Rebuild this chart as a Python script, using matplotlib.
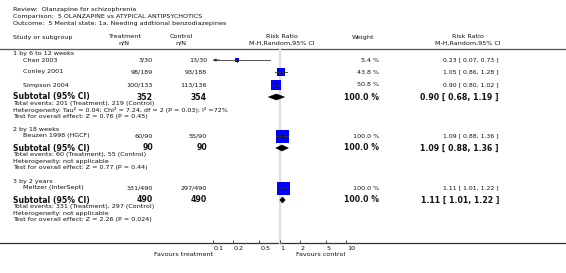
import matplotlib
matplotlib.use("Agg")
import matplotlib.pyplot as plt
import matplotlib.transforms as mtransforms
import numpy as np

# ---------------- data ----------------
review = "Review:  Olanzapine for schizophrenia"
comparison = "Comparison:  5 OLANZAPINE vs ATYPICAL ANTIPSYCHOTICS"
outcome = "Outcome:  5 Mental state: 1a. Needing addtional benzodiazepines"

subgroups = ["1 by 6 to 12 weeks", "2 by 18 weeks", "3 by 2 years"]
study_names = [["Chan 2003", "Conley 2001", "Simpson 2004"],
               ["Beuzen 1998 (HGCF)"],
               ["Meltzer (InterSept)"]]
treat_nN = [["3/30", "98/189", "100/133"], ["60/90"], ["331/490"]]
ctrl_nN = [["13/30", "93/188", "113/136"], ["55/90"], ["297/490"]]
weights = [[5.4, 43.8, 50.8], [100.0], [100.0]]
rr = [[0.23, 1.05, 0.90], [1.09], [1.11]]
rr_lo = [[0.07, 0.86, 0.80], [0.88], [1.01]]
rr_hi = [[0.73, 1.28, 1.02], [1.36], [1.22]]

sub_treat_N = [352, 90, 490]
sub_ctrl_N = [354, 90, 490]
sub_rr = [0.90, 1.09, 1.11]
sub_lo = [0.68, 0.88, 1.01]
sub_hi = [1.19, 1.36, 1.22]
sub_events = ["Total events: 201 (Treatment), 219 (Control)",
              "Total events: 60 (Treatment), 55 (Control)",
              "Total events: 331 (Treatment), 297 (Control)"]
sub_het = ["Heterogeneity: Tau\u00b2 = 0.04; Chi\u00b2 = 7.24, df = 2 (P = 0.03); I\u00b2 =72%",
           "Heterogeneity: not applicable",
           "Heterogeneity: not applicable"]
sub_test = ["Test for overall effect: Z = 0.76 (P = 0.45)",
            "Test for overall effect: Z = 0.77 (P = 0.44)",
            "Test for overall effect: Z = 2.26 (P = 0.024)"]

tick_vals = [0.1, 0.2, 0.5, 1, 2, 5, 10]
tick_labels = ["0.1", "0.2", "0.5", "1", "2", "5", "10"]

# ---------------- layout (pixel rows) ----------------
W, H = 566, 273
header_y = [[53, 60, 72, 85], [130, 136], [182, 188]]  # subgroup label, studies
sub_y = [97, 148, 200]
AX_TOP, AX_BOT = 48, 243

fig = plt.figure(figsize=(W / 100, H / 100), dpi=100)
tx = fig.add_axes([0, 0, 1, 1])
tx.set_xlim(0, W)
tx.set_ylim(H, 0)
tx.axis("off")

FS = 4.6
FSB = 5.6
col = "#111111"

tx.text(13, 9, review, fontsize=FS, va="center", color=col)
tx.text(13, 16.5, comparison, fontsize=FS, va="center", color=col)
tx.text(13, 24, outcome, fontsize=FS, va="center", color=col)

# headers
tx.text(13, 38, "Study or subgroup", fontsize=FS, va="center", color=col)
tx.text(124, 36.5, "Treatment", fontsize=FS, va="center", ha="center", color=col)
tx.text(124, 43, "n/N", fontsize=FS, va="center", ha="center", color=col)
tx.text(181, 36.5, "Control", fontsize=FS, va="center", ha="center", color=col)
tx.text(181, 43, "n/N", fontsize=FS, va="center", ha="center", color=col)
tx.text(282, 36.5, "Risk Ratio", fontsize=FS, va="center", ha="center", color=col)
tx.text(282, 43, "M-H,Random,95% CI", fontsize=FS, va="center", ha="center", color=col)
tx.text(363, 38, "Weight", fontsize=FS, va="center", ha="center", color=col)
tx.text(468, 36.5, "Risk Ratio", fontsize=FS, va="center", ha="center", color=col)
tx.text(468, 43, "M-H,Random,95% CI", fontsize=FS, va="center", ha="center", color=col)

tx.plot([0, W], [48.5, 48.5], color="#555555", lw=0.9)
tx.plot([0, W], [243, 243], color="#333333", lw=0.9)

tx.text(213, 254, "Favours treatment", fontsize=FS, va="center", ha="right", color=col)
tx.text(296, 254, "Favours control", fontsize=FS, va="center", ha="left", color=col)

# forest axes
fa = fig.add_axes([213 / W, (H - AX_BOT) / H, (346 - 213) / W, (AX_BOT - AX_TOP) / H])
fa.set_xscale("log")
fa.set_xlim(0.1, 10)
fa.set_ylim(AX_BOT, AX_TOP)
fa.patch.set_alpha(0)
for s in fa.spines.values():
    s.set_visible(False)
fa.set_yticks([])
fa.set_xticks(tick_vals)
fa.set_xticklabels(tick_labels)
fa.minorticks_off()
fa.tick_params(axis="x", direction="in", length=2.5, width=0.6, labelsize=FS, pad=2.0,
               color="#333333", labelcolor=col)
offset = mtransforms.ScaledTranslation(1.0 / 100, 0, fig.dpi_scale_trans)
for lab in fa.get_xticklabels():
    lab.set_horizontalalignment("left")
    lab.set_transform(lab.get_transform() + offset)

fa.plot([1, 1], [AX_TOP + 1, AX_BOT], color="#dddddd", lw=1.6, zorder=0, clip_on=False)

xmin, xmax = fa.get_xlim()
for g in range(3):
    ys = header_y[g]
    tx.text(13, ys[0], subgroups[g], fontsize=FS, va="center", color=col)
    for i, name in enumerate(study_names[g]):
        y = ys[i + 1]
        tx.text(23, y, name, fontsize=FS, va="center", color=col)
        tx.text(153, y, treat_nN[g][i], fontsize=FS, va="center", ha="right", color=col)
        tx.text(207, y, ctrl_nN[g][i], fontsize=FS, va="center", ha="right", color=col)
        tx.text(379, y, f"{weights[g][i]:.1f} %", fontsize=FS, va="center", ha="right", color=col)
        tx.text(499, y, f"{rr[g][i]:.2f} [ {rr_lo[g][i]:.2f}, {rr_hi[g][i]:.2f} ]",
                fontsize=FS - 0.2, va="center", ha="right", color=col)
        side_px = 1.3 * np.sqrt(weights[g][i])
        fa.plot([rr[g][i]], [y], marker="s", ms=side_px * 0.72, mfc="#0000ff",
                mec="#0000ff", mew=0, ls="none", zorder=2, clip_on=False)
        lo = max(rr_lo[g][i], xmin)
        hi = min(rr_hi[g][i], xmax)
        fa.plot([lo, hi], [y, y], color="#333333", lw=0.6, zorder=3, clip_on=False)
        fa.plot([rr[g][i], rr[g][i]], [y - 2, y + 2], color="#111111", lw=0.6, zorder=3,
                clip_on=False)
        if rr_lo[g][i] < xmin:
            fa.annotate("", xy=(xmin, y), xytext=(xmin * 1.25, y),
                        arrowprops=dict(arrowstyle="-|>", color="#333333", lw=0.6,
                                        mutation_scale=4, shrinkA=0, shrinkB=0))
    y = sub_y[g]
    tx.text(13, y, "Subtotal (95% CI)", fontsize=FSB, fontweight="bold", va="center", color=col)
    tx.text(153, y, str(sub_treat_N[g]), fontsize=FSB, fontweight="bold", va="center",
            ha="right", color=col)
    tx.text(207, y, str(sub_ctrl_N[g]), fontsize=FSB, fontweight="bold", va="center",
            ha="right", color=col)
    tx.text(379, y, "100.0 %", fontsize=FSB, fontweight="bold", va="center", ha="right", color=col)
    tx.text(499, y, f"{sub_rr[g]:.2f} [ {sub_lo[g]:.2f}, {sub_hi[g]:.2f} ]", fontsize=FSB,
            fontweight="bold", va="center", ha="right", color=col)
    fa.fill([sub_lo[g], sub_rr[g], sub_hi[g], sub_rr[g]], [y, y - 3, y, y + 3],
            color="black", lw=0.4, zorder=3, clip_on=False)
    tx.text(13, y + 6.5, sub_events[g], fontsize=FS, va="center", color=col)
    tx.text(13, y + 13, sub_het[g], fontsize=FS, va="center", color=col)
    tx.text(13, y + 19.5, sub_test[g], fontsize=FS, va="center", color=col)

fig.savefig("out.png", dpi=100)
